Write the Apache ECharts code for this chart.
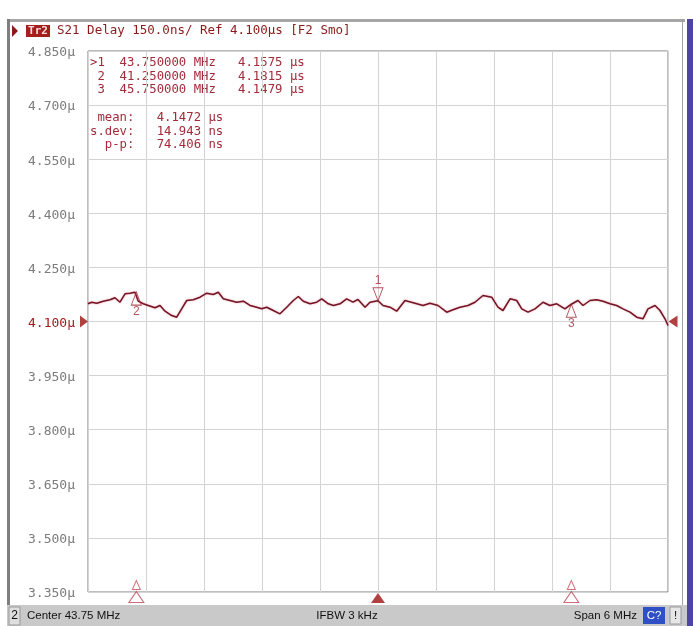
<!DOCTYPE html>
<html><head><meta charset="utf-8">
<script src="https://cdn.jsdelivr.net/npm/echarts@6/dist/echarts.min.js"></script>
<style>html,body{margin:0;padding:0;background:#fff}#c{width:693px;height:626px}</style>
</head><body><div id="c"></div><script>
// ---- data ----
const startMHz = 40.75, stopMHz = 46.75;
const yMin = 3.35, yMax = 4.85;
const freqMHz = [40.75,40.788,40.840,40.908,40.978,41.029,41.081,41.133,41.184,41.236,
  41.25,41.270,41.322,41.374,41.443,41.495,41.547,41.616,41.668,41.719,
  41.771,41.839,41.909,41.978,42.046,42.098,42.150,42.219,42.288,42.357,
  42.426,42.495,42.547,42.599,42.667,42.736,42.806,42.874,42.926,42.977,
  43.047,43.116,43.168,43.236,43.288,43.357,43.426,43.491,43.543,43.616,
  43.667,43.75,43.802,43.874,43.943,44.029,44.133,44.216,44.288,44.371,
  44.461,44.526,44.598,44.681,44.753,44.836,44.926,44.991,45.043,45.116,
  45.185,45.237,45.302,45.374,45.457,45.529,45.599,45.684,45.75,45.819,
  45.871,45.943,46.012,46.078,46.150,46.219,46.284,46.357,46.426,46.491,
  46.543,46.616,46.667,46.719,46.750];
const delayUs = [4.1491,4.1535,4.1507,4.1563,4.1602,4.1657,4.1535,4.1768,4.1785,4.1812,
  4.1815,4.1563,4.1491,4.1444,4.1380,4.1444,4.1286,4.1166,4.1119,4.1352,
  4.1582,4.1602,4.1674,4.1785,4.1749,4.1812,4.1629,4.1582,4.1535,4.1563,
  4.1444,4.1396,4.1352,4.1396,4.1305,4.1213,4.1396,4.1582,4.1693,4.1563,
  4.1491,4.1535,4.1629,4.1491,4.1444,4.1491,4.1629,4.1535,4.1610,4.1396,
  4.1535,4.1575,4.1444,4.1396,4.1286,4.1582,4.1507,4.1444,4.1507,4.1444,
  4.1258,4.1324,4.1396,4.1444,4.1535,4.1721,4.1674,4.1396,4.1305,4.1629,
  4.1582,4.1352,4.1258,4.1352,4.1535,4.1444,4.1491,4.1352,4.1479,4.1582,
  4.1444,4.1582,4.1602,4.1563,4.1491,4.1444,4.1352,4.1258,4.1119,4.1075,
  4.1352,4.1444,4.1305,4.1075,4.0889];
const markerIds = ['1','2','3'];
const markerFreqMHz = [43.75, 41.25, 45.75];
const markerDelayUs = [4.1575, 4.1815, 4.1479];
const activeMarker = 0;
const refValue = 4.100;
const yTickLabels = ['3.350μ','3.500μ','3.650μ','3.800μ','3.950μ','4.100μ','4.250μ','4.400μ','4.550μ','4.700μ','4.850μ'];
const refTickIndex = 5;
const statNames = ['mean:','s.dev:','p-p:'];
const statValues = ['4.1472 μs','14.943 ns','74.406 ns'];
const headerText = 'S21 Delay 150.0ns/ Ref 4.100μs [F2 Smo]';
const traceLabel = 'Tr2';
const statusLeft = 'Center 43.75 MHz';
const statusMid = 'IFBW 3 kHz';
const statusRight = 'Span 6 MHz';

// ---- chart ----
const chart = echarts.init(document.getElementById('c'), null, {renderer:'canvas'});
const MONO = 'DejaVu Sans Mono';
const DARK = '#8b1a1a';
const MRED = '#a32c3a';

const trace = freqMHz.map((f,i)=>[f, delayUs[i]]);
const activePts = [], inactivePts = [];
markerFreqMHz.forEach((f,i)=>{
  const p = {value:[f, markerDelayUs[i]], name: markerIds[i]};
  (i===activeMarker ? activePts : inactivePts).push(p);
});
const stimInactive = markerFreqMHz.filter((f,i)=>i!==activeMarker).map(f=>[f, yMin]);
const stimActive = markerFreqMHz.filter((f,i)=>i===activeMarker).map(f=>[f, yMin]);

const tableLines = markerFreqMHz.map((f,i)=>{
  const pre = (i===activeMarker ? '>' : ' ') + markerIds[i];
  return pre + '  ' + f.toFixed(6) + ' MHz   ' + markerDelayUs[i].toFixed(4) + ' μs';
});
const statLines = statNames.map((n,i)=> n.padStart(6,' ') + '   ' + statValues[i]);

const graphics = [];
// frame
graphics.push({type:'rect', shape:{x:8,y:19,width:677,height:3}, style:{fill:'#a6a6a6'}, silent:true, z:-1});
graphics.push({type:'rect', shape:{x:7,y:19,width:3,height:588}, style:{fill:'#7e7e7e'}, silent:true, z:-1});
graphics.push({type:'rect', shape:{x:682,y:19,width:1,height:588}, style:{fill:'#a0a0a0'}, silent:true, z:-1});
graphics.push({type:'rect', shape:{x:687,y:19,width:6,height:607}, style:{fill:'#4d44a6'}, silent:true, z:-1});
// header
graphics.push({type:'polygon', shape:{points:[[12,25],[18,31],[12,37]]}, style:{fill:DARK}, silent:true});
graphics.push({type:'rect', shape:{x:26,y:25,width:24,height:12}, style:{fill:'#a51d1d'}, silent:true});
graphics.push({type:'text', style:{text:traceLabel, x:38, y:31, align:'center', verticalAlign:'middle', font:'bold 11px '+MONO, fill:'#f4dede'}, silent:true});
graphics.push({type:'text', style:{text:headerText, x:57, y:31, verticalAlign:'middle', font:'12.5px '+MONO, fill:DARK}, silent:true});
// marker table
tableLines.forEach((t,i)=>{
  graphics.push({type:'text', style:{text:t, x:90, y:63 + i*13.5, verticalAlign:'middle', font:'12.3px '+MONO, fill:MRED}, silent:true});
});
statLines.forEach((t,i)=>{
  graphics.push({type:'text', style:{text:t, x:90, y:118 + i*13.5, verticalAlign:'middle', font:'12.3px '+MONO, fill:MRED}, silent:true});
});
// status bar
graphics.push({type:'rect', shape:{x:7,y:605,width:680,height:21}, style:{fill:'#c9c9c9'}, silent:true});
graphics.push({type:'rect', shape:{x:9,y:607,width:11,height:18}, style:{fill:'#dedede', stroke:'#9a9a9a', lineWidth:1}, silent:true});
graphics.push({type:'text', style:{text:'2', x:14.5, y:616, align:'center', verticalAlign:'middle', font:'12px Liberation Sans', fill:'#111'}, silent:true});
graphics.push({type:'text', style:{text:statusLeft, x:27, y:616, verticalAlign:'middle', font:'11.5px Liberation Sans', fill:'#111'}, silent:true});
graphics.push({type:'text', style:{text:statusMid, x:347, y:616, align:'center', verticalAlign:'middle', font:'11.5px Liberation Sans', fill:'#111'}, silent:true});
graphics.push({type:'text', style:{text:statusRight, x:637, y:616, align:'right', verticalAlign:'middle', font:'11.5px Liberation Sans', fill:'#111'}, silent:true});
graphics.push({type:'rect', shape:{x:643,y:607,width:22,height:17}, style:{fill:'#2f4fc4'}, silent:true});
graphics.push({type:'text', style:{text:'C?', x:654, y:616, align:'center', verticalAlign:'middle', font:'11.5px Liberation Sans', fill:'#fff'}, silent:true});
graphics.push({type:'rect', shape:{x:670,y:607,width:11,height:17}, style:{fill:'#e6e6e6', stroke:'#9a9a9a', lineWidth:1}, silent:true});
graphics.push({type:'text', style:{text:'!', x:675.5, y:616, align:'center', verticalAlign:'middle', font:'11.5px Liberation Sans', fill:'#111'}, silent:true});

const gridLine = {show:true, lineStyle:{color:'#d3d3d3', width:1}};
const option = {
  animation:false,
  backgroundColor:'#ffffff',
  grid:{left:88, top:51, width:580, height:541, show:true, borderColor:'#7c7c7c', borderWidth:1, backgroundColor:'transparent'},
  xAxis:[
    {type:'value', min:startMHz, max:stopMHz, show:false},
    {type:'value', min:0, max:10, interval:1, position:'bottom', axisLine:{show:false}, axisTick:{show:false}, axisLabel:{show:false}, splitLine:gridLine}
  ],
  yAxis:[
    {type:'value', min:yMin, max:yMax, show:false},
    {type:'value', min:0, max:10, interval:1, position:'left', axisLine:{show:false}, axisTick:{show:false}, splitLine:gridLine,
     axisLabel:{margin:13, fontFamily:MONO, fontSize:13, color:'#7c7c7c', padding:[4,0,0,0],
       formatter:(v)=> v===refTickIndex ? '{r|'+yTickLabels[v]+'}' : yTickLabels[v],
       rich:{r:{fontFamily:MONO, fontSize:13, color:'#a01c1c'}}}}
  ],
  graphic: graphics,
  series:[
    {type:'line', xAxisIndex:0, yAxisIndex:0, data:trace, showSymbol:false, z:3,
     lineStyle:{color:'#741424', width:1.5, shadowColor:'rgba(205,95,110,0.6)', shadowBlur:2}},
    {type:'scatter', xAxisIndex:0, yAxisIndex:0, data:activePts, z:4, clip:false,
     symbol:'triangle', symbolSize:[10,13], symbolRotate:180, symbolOffset:[0,-6.5],
     itemStyle:{color:'rgba(255,255,255,0)', borderColor:MRED, borderWidth:1},
     label:{show:true, position:'top', distance:1, formatter:(p)=>p.name, color:MRED, fontSize:12, fontFamily:'Liberation Sans'}},
    {type:'scatter', xAxisIndex:0, yAxisIndex:0, data:inactivePts, z:4, clip:false,
     symbol:'triangle', symbolSize:[10,13], symbolOffset:[0,6.5],
     itemStyle:{color:'rgba(255,255,255,0)', borderColor:MRED, borderWidth:1},
     label:{show:true, position:'bottom', distance:0, formatter:(p)=>p.name, color:MRED, fontSize:12, fontFamily:'Liberation Sans'}},
    {type:'scatter', xAxisIndex:0, yAxisIndex:0, data:stimInactive, z:4, clip:false,
     symbol:'triangle', symbolSize:[8,9], symbolOffset:[0,-7],
     itemStyle:{color:'rgba(255,255,255,0)', borderColor:'#c04a58', borderWidth:1}},
    {type:'scatter', xAxisIndex:0, yAxisIndex:0, data:stimInactive, z:4, clip:false,
     symbol:'triangle', symbolSize:[15,11], symbolOffset:[0,5],
     itemStyle:{color:'rgba(255,255,255,0)', borderColor:'#c04a58', borderWidth:1}},
    {type:'scatter', xAxisIndex:0, yAxisIndex:0, data:stimActive, z:4, clip:false,
     symbol:'triangle', symbolSize:[14,10], symbolOffset:[0,6],
     itemStyle:{color:'#9e1010'}},
    {type:'scatter', xAxisIndex:0, yAxisIndex:0, data:[[startMHz, refValue]], z:4, clip:false,
     symbol:'triangle', symbolSize:[12,8], symbolRotate:-90, symbolOffset:[-4,0],
     itemStyle:{color:'#9e1010'}},
    {type:'scatter', xAxisIndex:0, yAxisIndex:0, data:[[stopMHz, refValue]], z:4, clip:false,
     symbol:'triangle', symbolSize:[12,9], symbolRotate:90, symbolOffset:[5,0],
     itemStyle:{color:'#9e1010'}}
  ]
};
chart.setOption(option);
</script></body></html>
